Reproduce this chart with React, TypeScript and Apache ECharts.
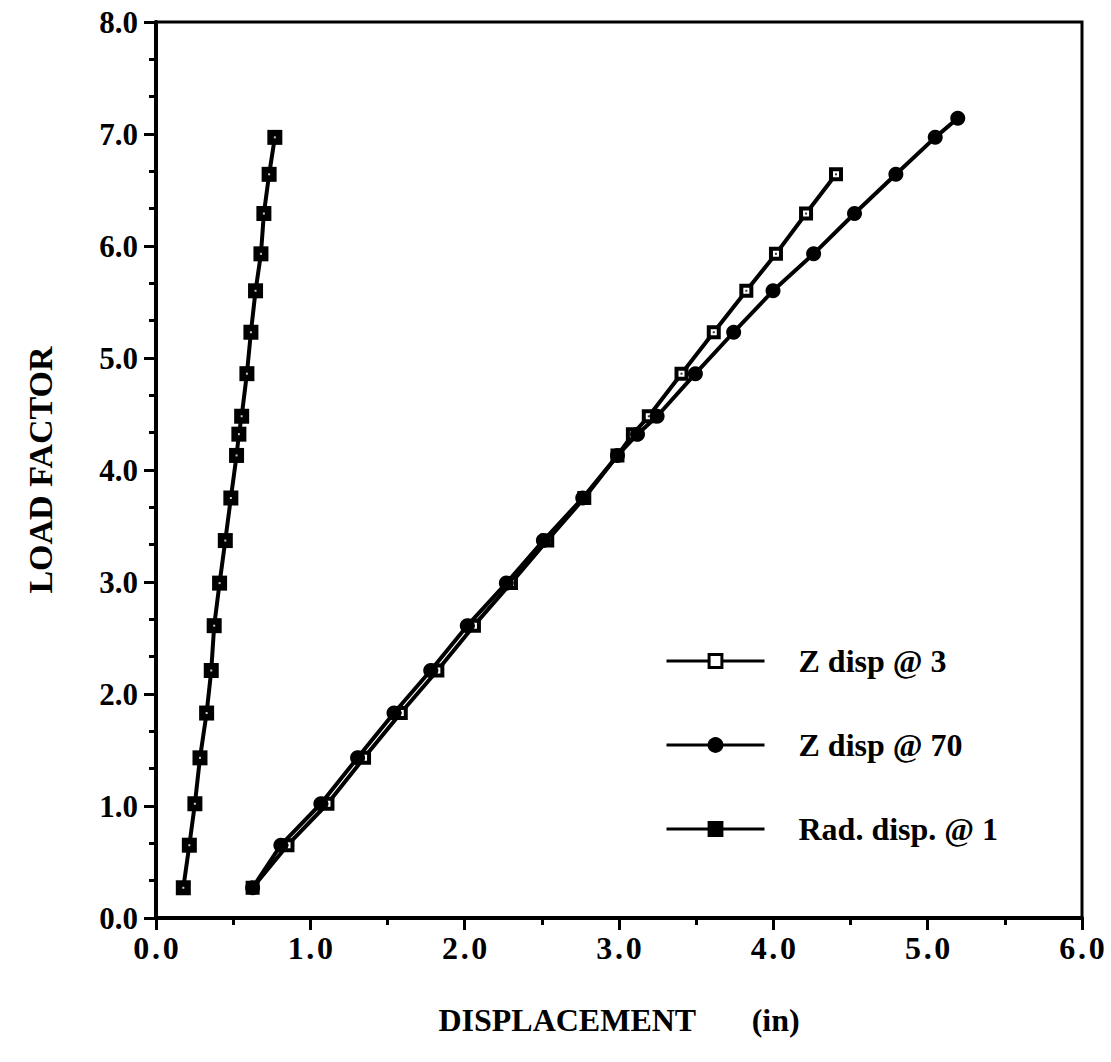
import React, { useEffect, useRef } from 'react';
import * as echarts from 'echarts';

const FONT = '"Liberation Serif", "Times New Roman", Times, serif';

// Load factor levels (shared by all series)
const loadFactor = [0.27, 0.65, 1.02, 1.43, 1.83, 2.21, 2.61, 2.99, 3.37, 3.75, 4.13, 4.32, 4.48, 4.86, 5.23, 5.6, 5.93, 6.29, 6.64, 6.97, 7.14];

// Displacements (in)
const zDisp3 = [0.626, 0.852, 1.111, 1.348, 1.586, 1.823, 2.06, 2.3, 2.535, 2.775, 2.99, 3.09, 3.193, 3.405, 3.614, 3.825, 4.017, 4.212, 4.406];
const zDisp70 = [0.626, 0.809, 1.068, 1.306, 1.542, 1.78, 2.017, 2.27, 2.51, 2.765, 2.99, 3.12, 3.247, 3.495, 3.743, 3.998, 4.261, 4.526, 4.794, 5.049, 5.195];
const radDisp1 = [0.177, 0.216, 0.252, 0.285, 0.328, 0.358, 0.377, 0.412, 0.449, 0.485, 0.522, 0.537, 0.555, 0.589, 0.615, 0.645, 0.68, 0.699, 0.733, 0.77];

const seriesNames = ['Z disp @ 3', 'Z disp @ 70', 'Rad. disp. @ 1'];
const xTicks = [0, 1, 2, 3, 4, 5, 6];
const yTicks = [0, 1, 2, 3, 4, 5, 6, 7, 8];

export default function App() {
  const ref = useRef<HTMLDivElement>(null);
  useEffect(() => {
    document.body.style.margin = '0';
    const chart = echarts.init(ref.current!, null, { renderer: 'svg' });
    const pairs = (xs: number[]) => xs.map((x, i) => [x, loadFactor[i]]);
    const txt = { color: '#000', fontFamily: FONT, fontWeight: 'bold' as const };
    chart.setOption({
      animation: false,
      backgroundColor: '#fff',
      grid: { left: 156, right: 29, top: 22, bottom: 144, show: true, borderColor: '#000', borderWidth: 3, backgroundColor: 'transparent' },
      legend: {
        orient: 'vertical',
        left: 665,
        top: 642,
        padding: 0,
        itemWidth: 98,
        itemHeight: 16,
        itemGap: 46,
        data: seriesNames,
        lineStyle: { width: 3 },
        itemStyle: { borderWidth: 3 },
        textStyle: { ...txt, fontSize: 32, padding: [0, 0, 0, 29], lineHeight: 38 },
      },
      xAxis: {
        type: 'value',
        min: xTicks[0],
        max: xTicks[xTicks.length - 1],
        interval: 1,
        axisLine: { show: true, lineStyle: { color: '#000', width: 4 } },
        axisTick: { show: true, length: 12, lineStyle: { color: '#000', width: 3 } },
        minorTick: { show: true, splitNumber: 2, length: 7, lineStyle: { color: '#000', width: 3 } },
        splitLine: { show: false },
        axisLabel: { ...txt, fontSize: 32, margin: 14, formatter: (v: number) => v.toFixed(1).split('').join('\u200A') },
        name: 'DISPLACEMENT       (in)',
        nameLocation: 'middle',
        nameGap: 86,
        nameTextStyle: { ...txt, fontSize: 32 },
      },
      yAxis: {
        type: 'value',
        min: yTicks[0],
        max: yTicks[yTicks.length - 1],
        interval: 1,
        axisLine: { show: true, lineStyle: { color: '#000', width: 4 } },
        axisTick: { show: true, length: 12, lineStyle: { color: '#000', width: 3 } },
        minorTick: { show: true, splitNumber: 3, length: 7, lineStyle: { color: '#000', width: 3 } },
        splitLine: { show: false },
        axisLabel: { ...txt, fontSize: 31, margin: 18, formatter: (v: number) => v.toFixed(1) },
        name: 'LOAD FACTOR',
        nameLocation: 'middle',
        nameGap: 99,
        nameRotate: 90,
        nameTextStyle: { ...txt, fontSize: 34 },
      },
      series: [
        {
          name: seriesNames[0],
          type: 'line',
          data: pairs(zDisp3),
          symbol: 'rect',
          symbolSize: 10,
          lineStyle: { color: '#000', width: 4 },
          itemStyle: { color: '#fff', borderColor: '#000', borderWidth: 4 },
          z: 2,
        },
        {
          name: seriesNames[0] + ' dot',
          type: 'scatter',
          data: pairs(zDisp3),
          symbol: 'rect',
          symbolSize: 2,
          itemStyle: { color: '#000' },
          z: 3,
          silent: true,
        },
        {
          name: seriesNames[1],
          type: 'line',
          data: pairs(zDisp70),
          symbol: 'circle',
          symbolSize: 15,
          lineStyle: { color: '#000', width: 4 },
          itemStyle: { color: '#000', borderColor: '#000', borderWidth: 0 },
          z: 4,
        },
        {
          name: seriesNames[2],
          type: 'line',
          data: pairs(radDisp1),
          symbol: 'rect',
          symbolSize: 15,
          lineStyle: { color: '#000', width: 4 },
          itemStyle: { color: '#000', borderColor: '#000', borderWidth: 0 },
          z: 5,
        },
        {
          name: seriesNames[2] + ' dot',
          type: 'scatter',
          data: pairs(radDisp1),
          symbol: 'rect',
          symbolSize: 2,
          itemStyle: { color: '#fff' },
          z: 6,
          silent: true,
        },
      ],
    });
    return () => chart.dispose();
  }, []);
  return <div ref={ref} style={{ width: 1111, height: 1062 }} />;
}
